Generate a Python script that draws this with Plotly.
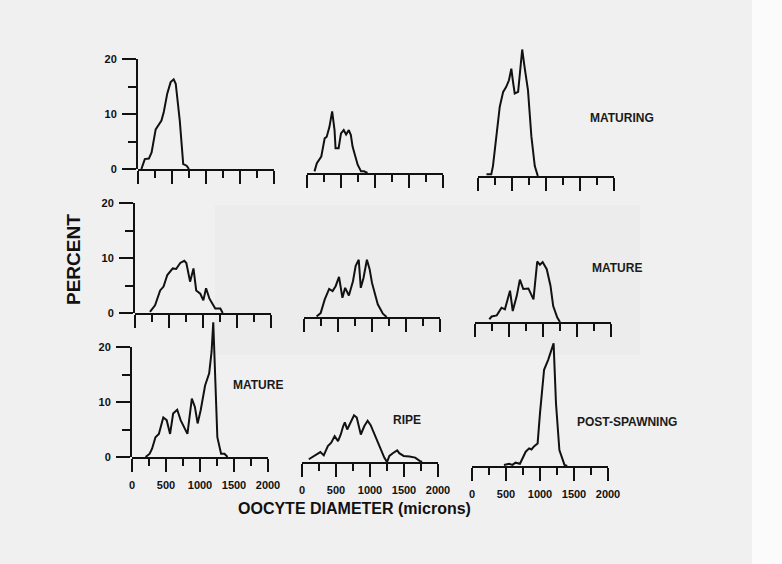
import plotly.graph_objects as go

W, H = 782, 564

# oocyte diameter (microns) / percent
maturing_a_x = [50, 100, 160, 200, 260, 345, 380, 430, 480, 525, 555, 615, 665, 715, 750]
maturing_a_y = [0, 1.8, 1.9, 3.0, 7.2, 8.8, 10.4, 13.7, 15.8, 16.3, 15.5, 8.7, 0.9, 0.6, 0]

maturing_b_x = [110, 145, 210, 260, 290, 330, 370, 405, 420, 465, 500, 540, 575, 615, 645, 670, 745, 795, 840, 890]
maturing_b_y = [0.3, 1.8, 3.0, 6.3, 6.6, 8.4, 11.2, 7.8, 4.5, 4.5, 7.2, 7.8, 7.0, 7.8, 6.9, 4.8, 1.5, 0.3, 0.3, 0]

maturing_c_x = [125, 195, 220, 270, 320, 370, 415, 455, 490, 515, 540, 590, 625, 650, 685, 735, 785, 835, 880]
maturing_c_y = [0.3, 0.3, 1.8, 7.2, 12.6, 15.3, 16.2, 17.4, 19.5, 17.1, 15.0, 15.3, 20.4, 23.0, 19.8, 15.6, 7.2, 1.8, 0]

mature_a_x = [220, 295, 370, 420, 475, 555, 605, 665, 725, 755, 810, 860, 900, 960, 1005, 1045, 1095, 1180, 1255, 1290]
mature_a_y = [0.2, 1.4, 4.1, 4.8, 6.9, 8.1, 8.0, 9.1, 9.5, 9.1, 5.7, 8.1, 4.1, 3.5, 2.3, 4.5, 2.6, 0.8, 0.8, 0]

mature_b_x = [185, 245, 305, 370, 420, 465, 515, 565, 605, 660, 720, 760, 805, 835, 875, 925, 965, 1000, 1085, 1160, 1215]
mature_b_y = [0.1, 0.7, 3.2, 5.1, 4.7, 5.6, 7.3, 3.5, 5.3, 3.9, 6.5, 9.3, 10.4, 5.3, 7.1, 10.4, 8.7, 6.2, 2.3, 0.6, 0]

mature_c_x = [210, 245, 320, 390, 440, 515, 555, 615, 660, 710, 785, 860, 915, 955, 995, 1055, 1110, 1150, 1210, 1250]
mature_c_y = [0.5, 1.0, 1.2, 2.6, 2.3, 5.7, 2.0, 4.8, 7.7, 6.0, 6.1, 4.1, 11.0, 10.4, 10.9, 9.6, 6.6, 2.9, 0.8, 0]

mature_d_x = [200, 260, 295, 345, 395, 460, 510, 560, 605, 665, 715, 765, 815, 880, 925, 965, 1010, 1075, 1135, 1170, 1195, 1255, 1310, 1360, 1405]
mature_d_y = [0, 0.6, 1.5, 3.6, 4.2, 7.2, 6.7, 4.2, 7.9, 8.6, 6.7, 5.5, 4.2, 10.6, 9.1, 6.1, 8.5, 13.0, 15.2, 19.1, 24.5, 3.6, 0.6, 0.6, 0]

ripe_x = [100, 175, 220, 270, 320, 380, 430, 480, 530, 570, 605, 630, 665, 715, 765, 805, 865, 915, 965, 1010,
          1085, 1150, 1210, 1250, 1285, 1335, 1400, 1430, 1495, 1580, 1665, 1730, 1765]
ripe_y = [0.5, 1.1, 1.4, 1.8, 1.2, 2.9, 3.5, 4.7, 3.8, 5.0, 6.5, 7.2, 5.9, 7.2, 8.5, 8.1, 5.0, 6.5, 7.5, 6.7,
          4.4, 2.3, 0.8, 0, 1.1, 1.6, 2.1, 1.6, 1.1, 1.0, 0.8, 0.2, 0]

post_x = [470, 545, 595, 640, 705, 740, 790, 840, 875, 915, 965, 1000, 1060, 1120, 1160, 1200, 1235, 1285, 1360, 1400]
post_y = [0.2, 0.4, 0.2, 0.6, 0.4, 1.4, 2.6, 3.2, 3.0, 3.6, 4.1, 9.6, 17.5, 19.3, 20.8, 22.3, 11.4, 2.9, 0.2, 0]

panels = [
    (maturing_a_x, maturing_a_y), (maturing_b_x, maturing_b_y), (maturing_c_x, maturing_c_y),
    (mature_a_x, mature_a_y), (mature_b_x, mature_b_y), (mature_c_x, mature_c_y),
    (mature_d_x, mature_d_y), (ripe_x, ripe_y), (post_x, post_y),
]

x_ticks = [0, 500, 1000, 1500, 2000]
x_minor = [250, 750, 1250, 1750]
y_ticks = [0, 10, 20]
y_minor = [5, 15]

# pixel placement of each panel (scan is slightly skewed)
X0 = [138, 307, 478, 135, 304, 475, 132, 302, 472]
BASE = [169, 173, 176, 313, 317, 322, 457, 462, 466]
PW = 136
UNIT = 5.5
YMAX = 27

FONT = "Liberation Sans, Arial, sans-serif"


def px_x(p):
    return p / W


def px_y(p):
    return 1 - p / H


fig = go.Figure()
layout = {}

for i, (xs, ys) in enumerate(panels):
    n = i + 1
    fig.add_trace(go.Scatter(x=xs, y=ys, mode="lines", xaxis=f"x{n}", yaxis=f"y{n}",
                             line={"color": "#111111", "width": 2}, showlegend=False, hoverinfo="skip"))
    x0, base = X0[i], BASE[i]
    layout[f"xaxis{n}"] = dict(
        domain=[px_x(x0), px_x(x0 + PW)], range=[0, 2000], anchor=f"y{n}", automargin=False,
        showline=True, linecolor="#111111", linewidth=2, showgrid=False, zeroline=False,
        ticks="outside", tickvals=x_ticks, ticklen=13, tickwidth=2, tickcolor="#111111",
        minor=dict(tickvals=x_minor, ticklen=7, tickwidth=2, tickcolor="#111111", ticks="outside"),
        showticklabels=i >= 6, ticklabelstandoff=4,
        tickfont=dict(family=FONT, size=11, color="#111111", weight="bold"),
    )
    layout[f"yaxis{n}"] = dict(
        domain=[px_y(base), px_y(base - YMAX * UNIT)], range=[0, YMAX], anchor=f"x{n}",
        visible=False, automargin=False,
    )

# left-hand percent axes, 0-20 only
for r, i in enumerate([0, 3, 6]):
    n = 10 + r
    x0, base = X0[i], BASE[i]
    fig.add_trace(go.Scatter(x=[None], y=[None], xaxis=f"x{n}", yaxis=f"y{n}", showlegend=False, hoverinfo="skip"))
    layout[f"xaxis{n}"] = dict(domain=[px_x(x0), px_x(x0 + PW)], range=[0, 2000], anchor=f"y{n}",
                               visible=False, automargin=False)
    layout[f"yaxis{n}"] = dict(
        domain=[px_y(base), px_y(base - 20 * UNIT)], range=[0, 20], anchor=f"x{n}", automargin=False,
        showline=True, linecolor="#111111", linewidth=2, showgrid=False, zeroline=False,
        ticks="outside", tickvals=y_ticks, ticklen=14, tickwidth=2, tickcolor="#111111",
        minor=dict(tickvals=y_minor, ticklen=8, tickwidth=2, tickcolor="#111111", ticks="outside"),
        ticklabelstandoff=3,
        tickfont=dict(family=FONT, size=11, color="#111111", weight="bold"),
    )

labels = [
    ("MATURING", 622, 118), ("MATURE", 617, 268), ("MATURE", 258, 385),
    ("RIPE", 407, 420), ("POST-SPAWNING", 627, 422),
]
annotations = [
    dict(text=t, x=px_x(x), y=px_y(y), xref="paper", yref="paper", showarrow=False,
         xanchor="center", yanchor="middle",
         font=dict(family=FONT, size=12, color="#1a1a1a", weight="bold"))
    for t, x, y in labels
]
annotations.append(dict(text="PERCENT", x=px_x(73), y=px_y(260), xref="paper", yref="paper",
                        showarrow=False, textangle=-90, xanchor="center", yanchor="middle",
                        font=dict(family=FONT, size=19, color="#111111", weight="bold")))
annotations.append(dict(text="OOCYTE DIAMETER (microns)", x=px_x(354), y=px_y(508), xref="paper", yref="paper",
                        showarrow=False, xanchor="center", yanchor="middle",
                        font=dict(family=FONT, size=16, color="#111111", weight="bold")))

fig.update_layout(
    **layout,
    width=W, height=H, autosize=False,
    margin=dict(l=0, r=0, t=0, b=0, pad=0, autoexpand=False),
    paper_bgcolor="#f0f0f0", plot_bgcolor="rgba(0,0,0,0)",
    annotations=annotations,
    shapes=[
        dict(type="rect", xref="paper", yref="paper", x0=px_x(752), x1=1, y0=0, y1=1,
             fillcolor="#fbfbfb", line={"width": 0}, layer="below"),
        dict(type="rect", xref="paper", yref="paper", x0=px_x(215), x1=px_x(640), y0=px_y(355), y1=px_y(205),
             fillcolor="#e6e6e6", line={"width": 0}, layer="below", opacity=0.35),
    ],
)

fig.write_html("out.html", config={"displayModeBar": False},
               post_script="document.body.style.margin='0';document.body.style.overflow='hidden';")
